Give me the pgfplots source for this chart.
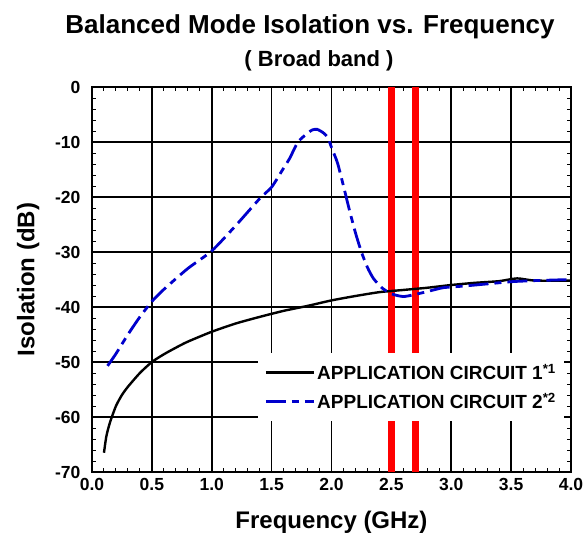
\documentclass[border=0pt]{standalone}
\usepackage{pgfplots}
\pgfplotsset{compat=1.18}
\usepackage{fontspec}
\setmainfont{Liberation Sans}
\begin{document}
\begin{tikzpicture}[x=1pt,y=1pt]
\useasboundingbox (-92,-61) rectangle (494,472);
\begin{axis}[
  scale only axis, width=479pt, height=385pt,
  at={(0,0)}, anchor=south west,
  xmin=0, xmax=4, ymin=-70, ymax=0,
  xtick={0,0.5,...,4}, ytick={-70,-60,...,0},
  xticklabels={0.0,0.5,1.0,1.5,2.0,2.5,3.0,3.5,4.0},
  yticklabels={-70,-60,-50,-40,-30,-20,-10,0},
  minor x tick num=4, minor y tick num=4,
  tick align=inside, major tick length=6pt, minor tick length=4pt,
  every tick/.style={black, line width=1.2pt},
  minor tick style={line width=1pt},
  grid=major, major grid style={black, line width=1.6pt},
  axis line style={line width=2.5pt},
  tick label style={font=\bfseries\fontsize{17.5}{19}\selectfont},
  yticklabel style={xshift=-8pt},
  xticklabel style={yshift=-3pt},
  xlabel={\bfseries Frequency (GHz)}, ylabel={\bfseries Isolation (dB)},
  label style={font=\bfseries\fontsize{24}{26}\selectfont},
  xlabel style={yshift=-13pt},
  ylabel style={yshift=9pt},
  legend style={at={(0.347,0.31)}, anchor=north west, draw=none, fill=white,
    font=\bfseries\fontsize{19}{21}\selectfont, row sep=8pt,
    inner xsep=6pt, inner ysep=9pt},
  legend cell align=left,
  legend image code/.code={\draw[#1] (0pt,0pt) -- (48pt,0pt);},
]
\addplot[red, line width=6.5pt, forget plot] coordinates {(2.5,-70) (2.5,0)};
\addplot[red, line width=6.5pt, forget plot] coordinates {(2.7,-70) (2.7,0)};
\addplot[black, line width=2.4pt, smooth, tension=0.4] coordinates {
(0.1,-66.5)(0.12,-63.5)(0.15,-61)(0.2,-58)(0.25,-56)(0.3,-54.5)(0.4,-52)(0.5,-50)(0.6,-48.6)(0.7,-47.4)(0.8,-46.3)(1.0,-44.5)(1.2,-43)(1.4,-41.8)(1.6,-40.7)(1.8,-39.8)(2.0,-38.8)(2.2,-38)(2.4,-37.3)(2.6,-36.9)(2.8,-36.5)(3.0,-36)(3.2,-35.6)(3.4,-35.3)(3.55,-34.8)(3.7,-35.2)(4.0,-35.2)};
\addlegendentry{APPLICATION CIRCUIT 1\textsuperscript{*1}}
\addplot[blue!80!black, line width=2.8pt, smooth, tension=0.4,
  dash pattern=on 20pt off 6pt on 7pt off 6pt] coordinates {
(0.13,-50.7)(0.2,-48.5)(0.3,-45)(0.4,-41.8)(0.5,-39)(0.6,-36.8)(0.8,-33)(1.0,-29.8)(1.2,-25.2)(1.4,-20.3)(1.5,-18.2)(1.59,-15.1)(1.65,-13)(1.72,-10)(1.8,-8.4)(1.84,-7.8)(1.88,-7.7)(1.93,-8.3)(1.97,-9.2)(2.0,-11)(2.05,-13.8)(2.1,-18)(2.15,-22.4)(2.2,-26.5)(2.25,-30)(2.3,-32.8)(2.35,-34.8)(2.42,-36.5)(2.5,-37.6)(2.6,-38.1)(2.7,-37.7)(2.8,-37.2)(2.93,-36.5)(3.1,-36.2)(3.3,-35.8)(3.5,-35.4)(3.7,-35.2)(4.0,-35)};
\addlegendentry{APPLICATION CIRCUIT 2\textsuperscript{*2}}
\end{axis}
\node[font=\bfseries\fontsize{26}{30}\selectfont] at (218,445) {Balanced Mode Isolation vs. Frequency};
\node[font=\bfseries\fontsize{22}{26}\selectfont] at (227,411) {( Broad band )};
\end{tikzpicture}
\end{document}
